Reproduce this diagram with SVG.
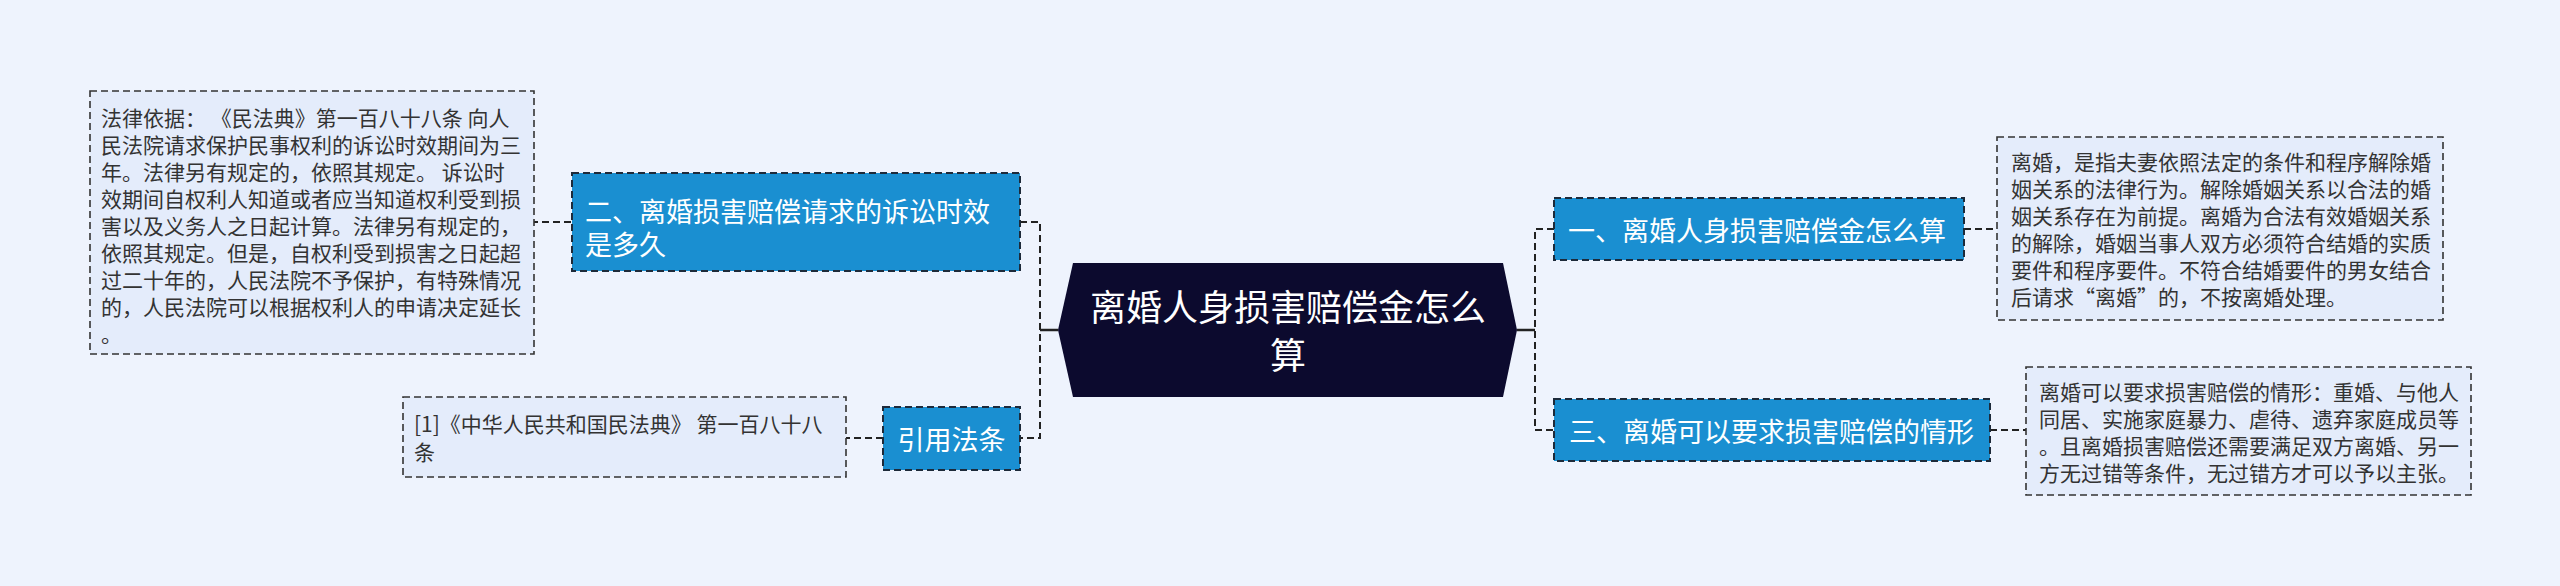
<svg xmlns="http://www.w3.org/2000/svg" width="2560" height="586" viewBox="0 0 2560 586">
<style>
.bg{fill:#eef3fd}
.leaf{fill:#e4ecfb;stroke:#333;stroke-width:1.6;stroke-dasharray:7 4}
.br{fill:#1a8fd1;stroke:#1d2a3a;stroke-width:2;stroke-dasharray:7 4}
.conn{fill:none;stroke:#222;stroke-width:2;stroke-dasharray:7 4}
.solid{fill:none;stroke:#222;stroke-width:2.5}
.lt{font-family:"Noto Sans CJK SC","Noto Sans",sans-serif;font-size:21px;fill:#333}
.bt{font-family:"Noto Sans CJK SC","Noto Sans",sans-serif;font-size:27px;fill:#fff}
.ct{font-family:"Noto Sans CJK SC","Noto Sans",sans-serif;font-size:36px;fill:#fff}
</style>
<rect class="bg" x="0" y="0" width="2560" height="586"/>
<g id="connectors">
<path class="conn" d="M1020,222 H1040 V438 H1020"/>
<path class="solid" d="M1040,330 H1058"/>
<path class="conn" d="M1554,229 H1535 V430 H1554"/>
<path class="solid" d="M1517,330 H1535"/>
<path class="conn" d="M571,222 H534"/>
<path class="conn" d="M883,438 H846"/>
<path class="conn" d="M1964,229 H1997"/>
<path class="conn" d="M1990,430 H2026"/>
</g>
<g id="center">
<polygon points="1058,330 1073,263 1503,263 1517,330 1503,397 1073,397" fill="#0c0a2e"/>
<text class="ct" x="1288" y="305" text-anchor="middle" dominant-baseline="central">离婚人身损害赔偿金怎么</text>
<text class="ct" x="1288" y="353" text-anchor="middle" dominant-baseline="central">算</text>
</g>
<g id="node2">
<rect class="br" x="572" y="173" width="448" height="98"/>
<text class="bt" x="585" y="210" dominant-baseline="central">二、离婚损害赔偿请求的诉讼时效</text>
<text class="bt" x="585" y="243" dominant-baseline="central">是多久</text>
</g>
<g id="leaf2">
<rect class="leaf" x="90" y="91" width="444" height="263"/>
<text class="lt" x="101" y="117" dominant-baseline="central">法律依据： 《民法典》第一百八十八条 向人</text>
<text class="lt" x="101" y="144" dominant-baseline="central">民法院请求保护民事权利的诉讼时效期间为三</text>
<text class="lt" x="101" y="171" dominant-baseline="central">年。法律另有规定的，依照其规定。 诉讼时</text>
<text class="lt" x="101" y="198" dominant-baseline="central">效期间自权利人知道或者应当知道权利受到损</text>
<text class="lt" x="101" y="225" dominant-baseline="central">害以及义务人之日起计算。法律另有规定的，</text>
<text class="lt" x="101" y="252" dominant-baseline="central">依照其规定。但是，自权利受到损害之日起超</text>
<text class="lt" x="101" y="279" dominant-baseline="central">过二十年的，人民法院不予保护，有特殊情况</text>
<text class="lt" x="101" y="306" dominant-baseline="central">的，人民法院可以根据权利人的申请决定延长</text>
<text class="lt" x="101" y="333" dominant-baseline="central">。</text>
</g>
<g id="node4">
<rect class="br" x="883" y="407" width="137" height="63"/>
<text class="bt" x="951.5" y="438" text-anchor="middle" dominant-baseline="central">引用法条</text>
</g>
<g id="leaf4">
<rect class="leaf" x="403" y="397" width="443" height="80"/>
<text class="lt" x="414" y="423" dominant-baseline="central">[1]《中华人民共和国民法典》 第一百八十八</text>
<text class="lt" x="414" y="451" dominant-baseline="central">条</text>
</g>
<g id="node1">
<rect class="br" x="1554" y="198" width="410" height="62"/>
<text class="bt" x="1568" y="229" dominant-baseline="central">一、离婚人身损害赔偿金怎么算</text>
</g>
<g id="leaf1">
<rect class="leaf" x="1997" y="137" width="446" height="183"/>
<text class="lt" x="2011" y="161" dominant-baseline="central">离婚，是指夫妻依照法定的条件和程序解除婚</text>
<text class="lt" x="2011" y="188" dominant-baseline="central">姻关系的法律行为。解除婚姻关系以合法的婚</text>
<text class="lt" x="2011" y="215" dominant-baseline="central">姻关系存在为前提。离婚为合法有效婚姻关系</text>
<text class="lt" x="2011" y="242" dominant-baseline="central">的解除，婚姻当事人双方必须符合结婚的实质</text>
<text class="lt" x="2011" y="269" dominant-baseline="central">要件和程序要件。不符合结婚要件的男女结合</text>
<text class="lt" x="2011" y="296" dominant-baseline="central">后请求“离婚”的，不按离婚处理。</text>
</g>
<g id="node3">
<rect class="br" x="1554" y="399" width="436" height="62"/>
<text class="bt" x="1569" y="430" dominant-baseline="central">三、离婚可以要求损害赔偿的情形</text>
</g>
<g id="leaf3">
<rect class="leaf" x="2026" y="367" width="445" height="128"/>
<text class="lt" x="2039" y="391" dominant-baseline="central">离婚可以要求损害赔偿的情形：重婚、与他人</text>
<text class="lt" x="2039" y="418" dominant-baseline="central">同居、实施家庭暴力、虐待、遗弃家庭成员等</text>
<text class="lt" x="2039" y="445" dominant-baseline="central">。且离婚损害赔偿还需要满足双方离婚、另一</text>
<text class="lt" x="2039" y="472" dominant-baseline="central">方无过错等条件，无过错方才可以予以主张。</text>
</g>
</svg>
